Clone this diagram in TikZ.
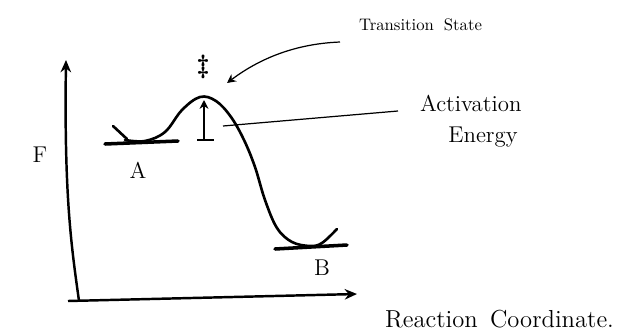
\documentclass[tikz,border=0pt]{standalone}
\usetikzlibrary{arrows.meta}
\begin{document}
\begin{tikzpicture}[x={(0.02cm,0)},y={(0,-0.02cm)},
  axis/.style={line width=1.4pt,-{Stealth[length=7pt,width=6pt]}},
  curve/.style={line width=1.5pt,line cap=round,line join=round},
  level/.style={line width=2pt,line cap=round},
  pointer/.style={line width=0.7pt},
  lab/.style={inner sep=1pt,font=\fontsize{13}{15}\selectfont}]
\useasboundingbox (0,0) rectangle (629,335);
% axes
\coordinate (org) at (79,301);
\coordinate (ytop) at (66,60);
\coordinate (xend) at (357,294);
\coordinate (xstart) at (68,301);
\draw[axis] (org) .. controls (72,250) and (64,200) .. (ytop);
\draw[axis] (xstart) -- (xend);
% levels
\coordinate (a1) at (105,144); \coordinate (a2) at (178,141);
\coordinate (b1) at (275,249); \coordinate (b2) at (347,245);
\draw[level] (a1) -- (a2);
\draw[level] (b1) -- (b2);
% energy curve
\draw[curve] (113,126) -- (127,139);
\draw[curve] plot[smooth,tension=0.6] coordinates {(125,140) (145,141) (165,132) (182,110) (200,97) (216,101) (231,117) (244,140) (255,167) (265,200) (277,228) (292,242) (310,246) (322,243) (337,229)};
% activation energy arrow
\coordinate (eabot) at (204,140);
\coordinate (eatop) at (204,100);
\coordinate (ebl) at (197,140); \coordinate (ebr) at (214,140);
\draw[line width=1pt,-{Stealth[length=5pt,width=5pt]}] (eabot) -- (eatop);
\draw[line width=1pt] (ebl) -- (ebr);
% labels
\node[lab] (F) at (40,155) {F};
\node[lab] (A) at (138,170) {A};
\node[lab] (B) at (322,268) {B};
\node[lab,font=\fontsize{15}{17}\selectfont\bfseries] (ddag) at (203,67) {\ddag};
\node[lab,font=\fontsize{9.5}{11}\selectfont,anchor=west] (ts) at (357,25) {Transition\hspace{0.6em}State};
\node[lab,anchor=west] (act) at (418,103) {Activation};
\node[lab] (en) at (483,137) {Energy};
\node[lab,font=\fontsize{14}{16}\selectfont,anchor=west] (rc) at (383,319) {Reaction\hspace{0.5em}Coordinate.};
% pointers
\coordinate (tsend) at (227,83);
\draw[pointer,-{Stealth[length=5pt,width=5pt]}] (340,42) .. controls (290,44) and (255,62) .. (tsend);
\coordinate (eaend) at (223,126);
\draw[pointer] (398,111) -- (eaend);
\end{tikzpicture}
\end{document}
